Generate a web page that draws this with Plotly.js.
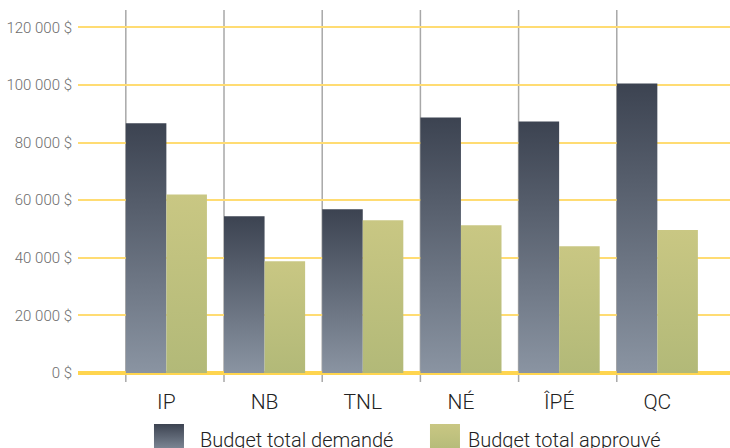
<!DOCTYPE html>
<html>
<head>
<meta charset="utf-8">
<script src="https://cdn.plot.ly/plotly-3.0.1.min.js"></script>
<style>html,body{margin:0;padding:0;background:#fff;}#chart{width:730px;height:448px;}</style>
</head>
<body>
<div id="chart"></div>
<script>
const provinces = ['IP', 'NB', 'TNL', 'NÉ', 'ÎPÉ', 'QC'];
const budgetDemande = [86700, 54400, 56800, 88700, 87300, 100500];
const budgetApprouve = [62000, 38800, 53000, 51300, 44000, 49600];
const seriesNames = ['Budget total demandé', 'Budget total approuvé'];
const yTicks = [0, 20000, 40000, 60000, 80000, 100000, 120000];
const yTickText = ['0 $', '20 000 $', '40 000 $', '60 000 $', '80 000 $', '100 000 $', '120 000 $'];

const FONT = 'Roboto, "Liberation Sans", Arial, sans-serif';

const traces = [
  {type: 'bar', x: provinces, y: budgetDemande, name: seriesNames[0],
   marker: {color: '#5a6373', line: {width: 0}}, hoverinfo: 'none'},
  {type: 'bar', x: provinces, y: budgetApprouve, name: seriesNames[1],
   marker: {color: '#c2c27f', line: {width: 0}}, hoverinfo: 'none'}
];

const shapes = provinces.map((p, i) => ({
  type: 'line', xref: 'x', yref: 'paper', layer: 'below',
  x0: i - 0.413, x1: i - 0.413, y0: -0.025, y1: 1,
  line: {color: '#a8a8a8', width: 1.5}
}));

const layout = {
  width: 730, height: 448,
  margin: {l: 78, r: 0, t: 10, b: 75, autoexpand: false},
  paper_bgcolor: '#ffffff', plot_bgcolor: '#ffffff',
  barmode: 'group', bargap: 0.174, bargroupgap: 0,
  showlegend: true,
  font: {family: FONT, color: '#222'},
  xaxis: {
    type: 'category', range: [-0.9, 5.74], showgrid: false, zeroline: false,
    showline: false, ticks: '', ticklabelstandoff: 14,
    tickfont: {family: FONT, size: 21, color: '#222', weight: 300}
  },
  yaxis: {
    range: [0, 126000], tickvals: yTicks, ticktext: yTickText,
    showgrid: true, gridcolor: '#ffdc73', gridwidth: 2,
    zeroline: true, zerolinecolor: '#ffd54f', zerolinewidth: 4,
    showline: false, ticks: '', ticklabelstandoff: 5,
    tickfont: {family: FONT, size: 15, color: '#6d6d6d', weight: 300}
  },
  shapes: shapes,
  legend: {
    orientation: 'h', x: 0.092, xanchor: 'left', y: -0.128, yanchor: 'top',
    font: {family: FONT, size: 20, color: '#222', weight: 300},
    itemwidth: 52, entrywidth: 201, traceorder: 'normal', bgcolor: 'rgba(0,0,0,0)'
  }
};

Plotly.newPlot('chart', traces, layout, {staticPlot: true}).then(gd => {
  const svg = gd.querySelector('svg.main-svg');
  const NS = 'http://www.w3.org/2000/svg';
  let defs = svg.querySelector('defs');
  if (!defs) { defs = document.createElementNS(NS, 'defs'); svg.insertBefore(defs, svg.firstChild); }
  function grad(id, top, bottom) {
    const g = document.createElementNS(NS, 'linearGradient');
    g.setAttribute('id', id);
    g.setAttribute('x1', '0'); g.setAttribute('y1', '0');
    g.setAttribute('x2', '0'); g.setAttribute('y2', '1');
    [[0, top], [1, bottom]].forEach(([o, c]) => {
      const s = document.createElementNS(NS, 'stop');
      s.setAttribute('offset', o); s.setAttribute('stop-color', c);
      g.appendChild(s);
    });
    defs.appendChild(g);
  }
  grad('gDark', '#3c4351', '#8a94a2');
  grad('gLight', '#c9c783', '#b2b978');
  const ids = ['url(#gDark)', 'url(#gLight)'];
  const swatchShift = [0, 8];
  gd.querySelectorAll('.barlayer .trace').forEach((t, i) => {
    t.querySelectorAll('path').forEach(p => { p.style.fill = ids[i]; });
  });
  gd.querySelectorAll('.legend .traces').forEach((t, i) => {
    t.querySelectorAll('.legendpoints path').forEach(p => {
      p.setAttribute('d', 'M15,15H-15V-15H15Z');
      p.style.fill = ids[i];
      const prev = p.getAttribute('transform') || '';
      p.setAttribute('transform', prev + ' translate(' + swatchShift[i] + ',0)');
    });
  });
});
</script>
</body>
</html>
